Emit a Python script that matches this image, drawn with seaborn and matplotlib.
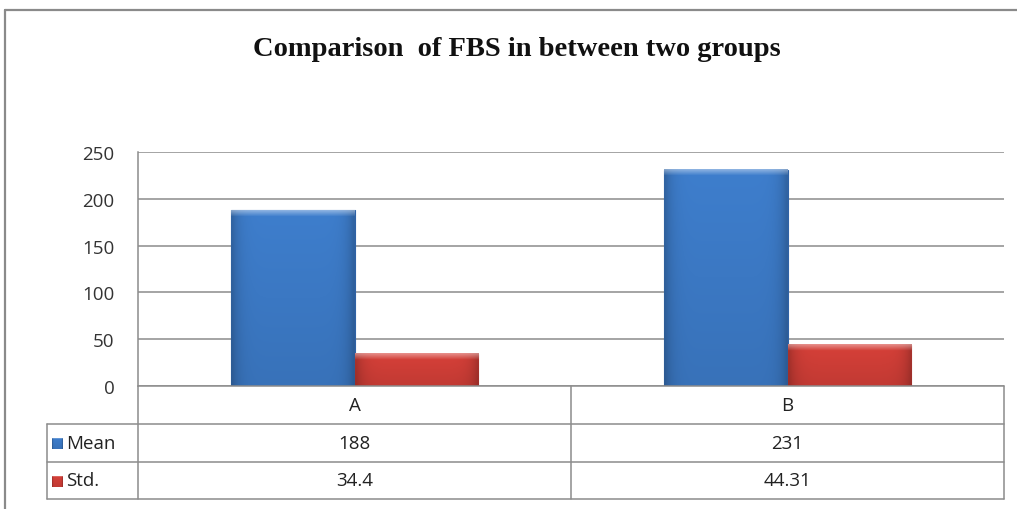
import matplotlib
matplotlib.use("Agg")
import matplotlib.pyplot as plt
import matplotlib.transforms as mtransforms
import matplotlib.colors as mcolors
import numpy as np
import seaborn as sns
import pandas as pd

# Data
groups = ["A", "B"]
series = ["Mean", "Std."]
mean_vals = [188, 231]
std_vals = [34.4, 44.31]
mean_labels = ["188", "231"]
std_labels = ["34.4", "44.31"]
yticks = [0, 50, 100, 150, 200, 250]

colors = {"Mean": "#3b78c3", "Std.": "#cc3d36"}
edge_colors = {"Mean": "#2f62a6", "Std.": "#a8302a"}

df = pd.DataFrame({
    "group": groups * 2,
    "series": [series[0]] * len(groups) + [series[1]] * len(groups),
    "value": mean_vals + std_vals,
})

sns.set_theme(style="white")
plt.rcParams["font.family"] = ["Open Sans", "DejaVu Sans"]

W, H = 1017, 510
fig = plt.figure(figsize=(W / 100, H / 100), dpi=100)
fig.patch.set_facecolor("white")


def fx(x):
    return x / W


def fy(y):
    return 1 - y / H


left, right, top, bottom = 138, 1004, 153, 387
ax = fig.add_axes([fx(left), fy(bottom), fx(right - left), fy(top) - fy(bottom)])

sns.barplot(data=df, x="group", y="value", hue="series", order=groups,
            hue_order=series, palette=colors, width=0.571, saturation=1,
            ax=ax, legend=False, zorder=3)


def shaded(base, nx=40, ny=60, bevel_rows=4):
    """Beveled fill: slightly darker toward the side edges and bottom, lighter top lip."""
    rgb = np.array(mcolors.to_rgb(base))
    u = np.linspace(0, 1, nx)
    v = np.linspace(0, 1, ny)[:, None]  # 0 = top
    side = 1 - 0.2 * np.abs(2 * u - 1) ** 8
    vert = 1.05 - 0.1 * v
    img = np.clip(rgb[None, None, :] * (side[None, :] * vert)[:, :, None], 0, 1)
    for r in range(min(bevel_rows, ny)):
        t = 0.4 * (1 - r / max(bevel_rows, 1))
        img[r] = np.clip(img[r] + (1 - img[r]) * t, 0, 1)
    return img


ax.set_xlim(-0.5, len(groups) - 0.5)
ax.set_ylim(0, 250)
units_per_px = 250 / (bottom - top)
for container, s in zip(ax.containers, series):
    for bar in container:
        x, w, h = bar.get_x(), bar.get_width(), bar.get_height()
        bar.set_edgecolor(edge_colors[s])
        bar.set_linewidth(0.8)
        ny = max(int(h / units_per_px), 8)
        ax.imshow(shaded(colors[s], ny=ny, bevel_rows=6),
                  extent=[x, x + w, 0, h], aspect="auto", zorder=3.5,
                  interpolation="bilinear")
ax.set_xlim(-0.5, len(groups) - 0.5)
ax.set_ylim(0, 250)

ax.set_yticks(yticks)
ax.set_yticklabels([str(t) for t in yticks], fontsize=13.5, color="#333333")
ax.tick_params(axis="y", length=0, pad=17)
ax.set_xticks([])
ax.set_xlabel("")
ax.set_ylabel("")
grid_c = "#8c8c8c"
for t in yticks:
    ax.axhline(t, color=grid_c, lw=1.1, zorder=1)
for side in ["top", "right", "bottom"]:
    ax.spines[side].set_visible(False)
ax.spines["left"].set_color(grid_c)
ax.spines["left"].set_linewidth(1.1)

# Data table below the plot, columns aligned with the categories
blend = mtransforms.blended_transform_factory(ax.transData, fig.transFigure)
row_edges = [387, 425, 463, 500]
tab_left = 47
line_kw = dict(color=grid_c, lw=1.1, clip_on=False)

x0, x1 = -0.5, len(groups) - 0.5
fig.add_artist(plt.Line2D([x0, x1], [fy(row_edges[0])] * 2, transform=blend, **line_kw))
for y in row_edges[1:]:
    fig.add_artist(plt.Line2D([fx(tab_left), fx(right)], [fy(y)] * 2,
                              transform=fig.transFigure, **line_kw))
for i in range(len(groups) + 1):
    xb = i - 0.5
    fig.add_artist(plt.Line2D([xb, xb], [fy(row_edges[0]), fy(row_edges[-1])],
                              transform=blend, **line_kw))
fig.add_artist(plt.Line2D([fx(tab_left)] * 2, [fy(row_edges[1]), fy(row_edges[-1])],
                          transform=fig.transFigure, **line_kw))

txt_kw = dict(fontsize=13.5, color="#222222", ha="center", va="center")
row_mid = [(row_edges[k] + row_edges[k + 1]) / 2 for k in range(3)]
for i, g in enumerate(groups):
    fig.text(i, fy(row_mid[0]), g, transform=blend, **txt_kw)
    fig.text(i, fy(row_mid[1]), mean_labels[i], transform=blend, **txt_kw)
    fig.text(i, fy(row_mid[2]), std_labels[i], transform=blend, **txt_kw)

# legend keys in the table
for k, s in enumerate(series):
    ym = row_mid[k + 1]
    key_ax = fig.add_axes([fx(52), fy(ym + 6), fx(11), fy(0) - fy(11)])
    key_ax.imshow(shaded(colors[s], nx=12, ny=12, bevel_rows=2), aspect="auto",
                  interpolation="bilinear")
    key_ax.set_axis_off()
    fig.text(fx(66), fy(ym), s, fontsize=13.5, color="#222222", ha="left", va="center")

# title
fig.text(fx(517), fy(50), "Comparison  of FBS in between two groups",
         fontsize=20.5, fontweight="bold", family="Liberation Serif",
         ha="center", va="center", color="#111111")

# outer chart border
border_c = "#8a8a8a"
fig.add_artist(plt.Line2D([fx(5), fx(W)], [fy(11), fy(11)], color=border_c, lw=1.6,
                          transform=fig.transFigure))
fig.add_artist(plt.Line2D([fx(5), fx(5)], [fy(11), fy(H)], color=border_c, lw=1.6,
                          transform=fig.transFigure))

fig.savefig("out.png", dpi=100, facecolor="white")
